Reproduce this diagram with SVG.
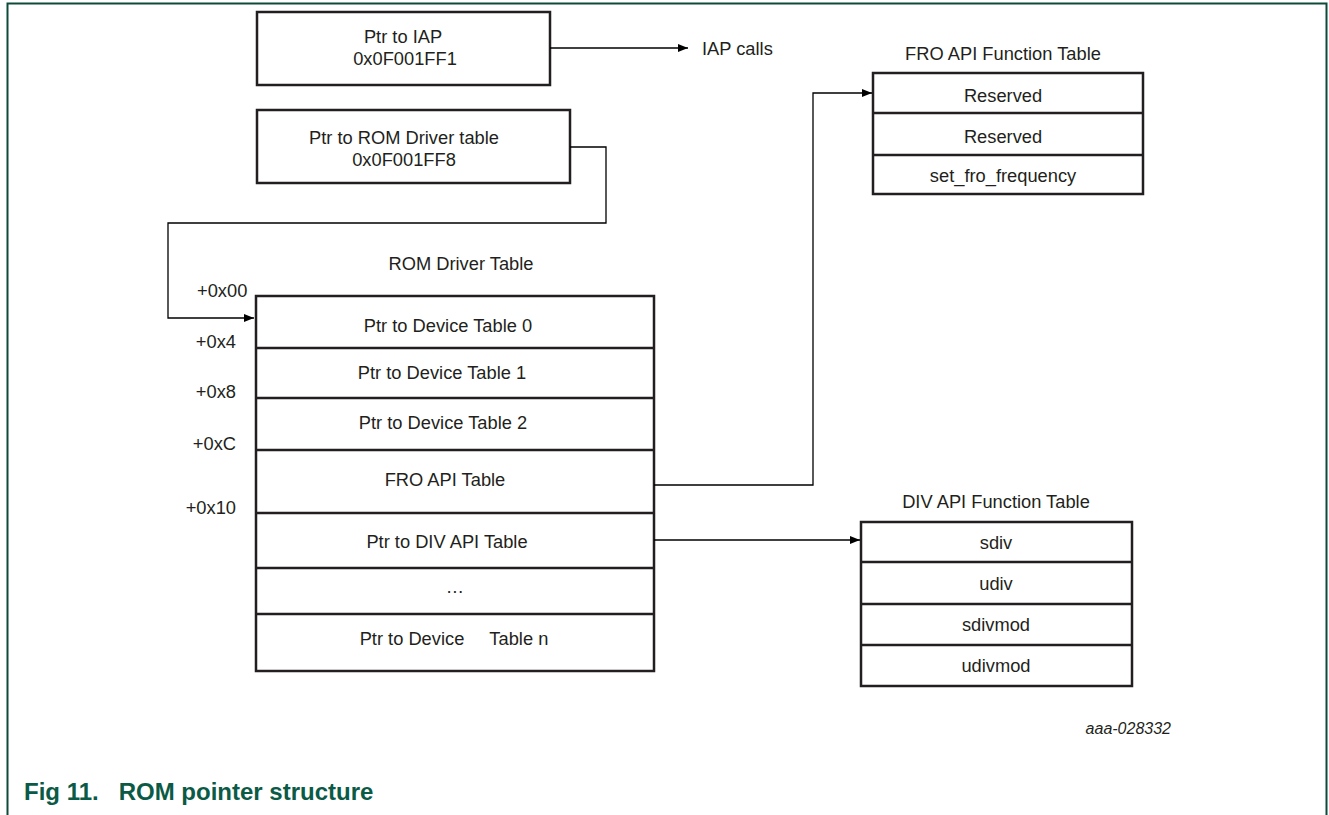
<svg xmlns="http://www.w3.org/2000/svg" width="1329" height="815" viewBox="0 0 1329 815">
<style>
  .box{fill:#fff;stroke:#231f20;stroke-width:2.5}
  .div{stroke:#231f20;stroke-width:2.5}
  .con{fill:none;stroke:#000;stroke-width:1.3}
  text{font-family:"Liberation Sans",Arial,sans-serif;fill:#231f20}
  .t{font-size:18.3px;text-anchor:middle}
  .l{font-size:18.3px}
  .r{font-size:18.3px;text-anchor:end}
</style>
<defs>
  <marker id="ah" viewBox="0 0 10 10" refX="10" refY="5" markerWidth="10" markerHeight="10" markerUnits="userSpaceOnUse" orient="auto">
    <path d="M0,1 L10,5 L0,9 Z" fill="#000"/>
  </marker>
</defs>
<rect width="1329" height="815" fill="#fff"/>
<path d="M7.5,815 V3.5 H1326.5 V815" fill="none" stroke="#0d4a3b" stroke-width="2"/>

<g id="iap-ptr">
  <rect class="box" x="257" y="12" width="293" height="73"/>
  <text class="t" x="403" y="43">Ptr to IAP</text>
  <text class="t" x="405" y="65">0x0F001FF1</text>
</g>
<g id="iap-calls">
  <text class="l" x="702" y="55">IAP calls</text>
</g>
<g id="rom-ptr">
  <rect class="box" x="257" y="110" width="313" height="73"/>
  <text class="t" x="404" y="144">Ptr to ROM Driver table</text>
  <text class="t" x="404" y="166">0x0F001FF8</text>
</g>

<g id="rom-table">
  <text class="t" x="461" y="270">ROM Driver Table</text>
  <rect class="box" x="256" y="296" width="398" height="375"/>
  <line class="div" x1="256" y1="348" x2="654" y2="348"/>
  <line class="div" x1="256" y1="398" x2="654" y2="398"/>
  <line class="div" x1="256" y1="450" x2="654" y2="450"/>
  <line class="div" x1="256" y1="513" x2="654" y2="513"/>
  <line class="div" x1="256" y1="568" x2="654" y2="568"/>
  <line class="div" x1="256" y1="614" x2="654" y2="614"/>
  <text class="t" x="448" y="332">Ptr to Device Table 0</text>
  <text class="t" x="442" y="379">Ptr to Device Table 1</text>
  <text class="t" x="443" y="429">Ptr to Device Table 2</text>
  <text class="t" x="445" y="486">FRO API Table</text>
  <text class="t" x="447" y="548">Ptr to DIV API Table</text>
  <text class="t" x="455" y="593">…</text>
  <text class="t" x="454" y="645" xml:space="preserve">Ptr to Device     Table n</text>
  <text class="l" x="197" y="297">+0x00</text>
  <text class="r" x="236" y="348">+0x4</text>
  <text class="r" x="236" y="398">+0x8</text>
  <text class="r" x="236" y="450">+0xC</text>
  <text class="r" x="236" y="514">+0x10</text>
</g>

<g id="fro-table">
  <text class="t" x="1003" y="60">FRO API Function Table</text>
  <rect class="box" x="873" y="73" width="270" height="121"/>
  <line class="div" x1="873" y1="113" x2="1143" y2="113"/>
  <line class="div" x1="873" y1="155" x2="1143" y2="155"/>
  <text class="t" x="1003" y="102">Reserved</text>
  <text class="t" x="1003" y="143">Reserved</text>
  <text class="t" x="1003" y="182">set_fro_frequency</text>
</g>

<g id="div-table">
  <text class="t" x="996" y="508">DIV API Function Table</text>
  <rect class="box" x="861" y="522" width="271" height="164"/>
  <line class="div" x1="861" y1="562" x2="1132" y2="562"/>
  <line class="div" x1="861" y1="604" x2="1132" y2="604"/>
  <line class="div" x1="861" y1="645" x2="1132" y2="645"/>
  <text class="t" x="996" y="549">sdiv</text>
  <text class="t" x="996" y="590">udiv</text>
  <text class="t" x="996" y="631">sdivmod</text>
  <text class="t" x="996" y="672">udivmod</text>
</g>

<g id="connectors">
  <path class="con" d="M550,48 H688" marker-end="url(#ah)"/>
  <path class="con" d="M570,147 H606 V223 H168 V318 H254" marker-end="url(#ah)"/>
  <path class="con" d="M654,485 H813 V93 H872" marker-end="url(#ah)"/>
  <path class="con" d="M654,540 H860" marker-end="url(#ah)"/>
</g>

<text x="1171" y="734" style="font-size:16px;font-style:italic;text-anchor:end">aaa-028332</text>
<text x="24" y="800" xml:space="preserve" style="font-size:24px;font-weight:bold;fill:#0b5a46">Fig 11.   ROM pointer structure</text>
</svg>
